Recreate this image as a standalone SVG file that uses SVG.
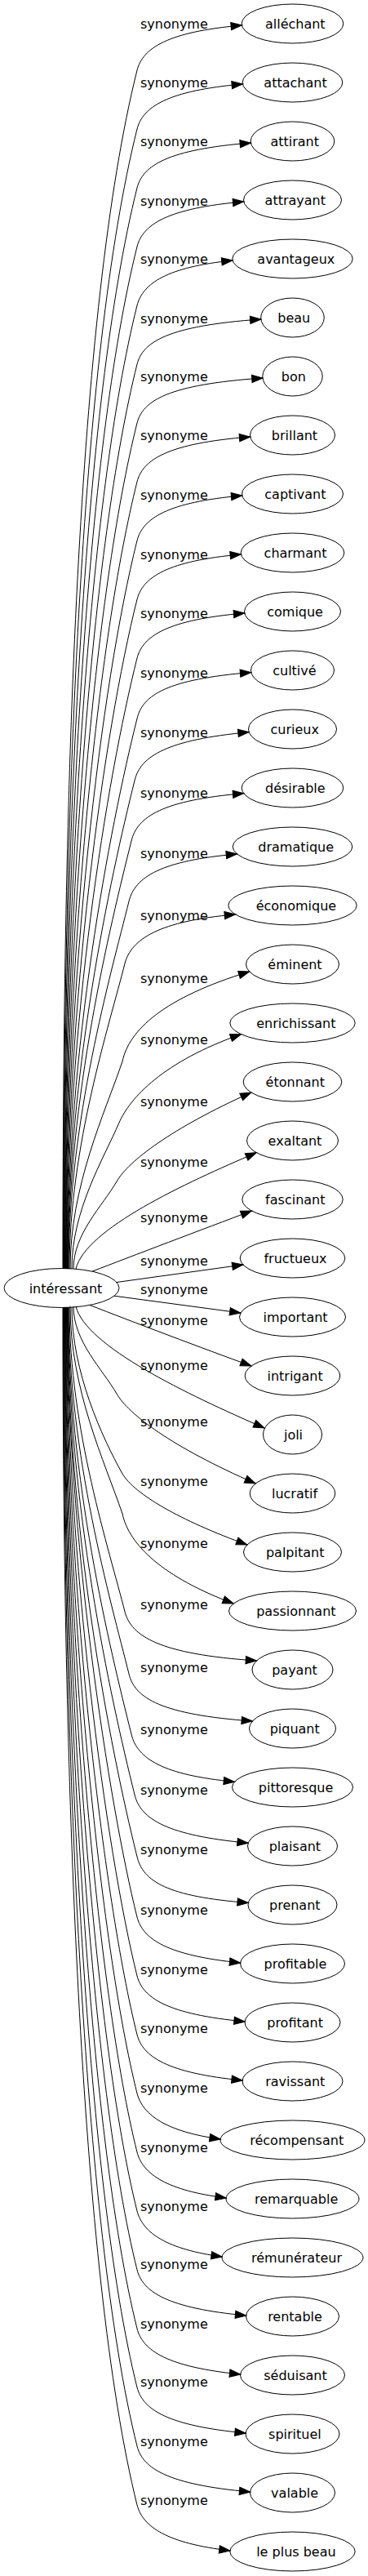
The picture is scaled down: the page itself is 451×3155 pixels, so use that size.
<svg xmlns="http://www.w3.org/2000/svg" width="451" height="3155" viewBox="0 0 451 3155">
<style>
.n ellipse{fill:none;stroke:#000;stroke-width:1}
.n text,.e text{font-family:"DejaVu Sans",sans-serif;font-size:16px;fill:#000}
.n text{text-anchor:middle}
.e path{fill:none;stroke:#000;stroke-width:1;marker-end:url(#ah)}
</style>
<defs>
<marker id="ah" markerUnits="userSpaceOnUse" markerWidth="13.3" markerHeight="9.33" viewBox="0 0 13.3 9.33" refX="13.3" refY="4.67" orient="auto" overflow="visible"><path d="M0,0L13.3,4.67L0,9.33z" fill="#000" stroke="#000" stroke-width="1"/></marker>
</defs>
<rect width="451" height="3155" fill="#fff"/>
<g id="edges" class="e">
<g><path d="M77,1554 C77,966.8 94.6,379.6 168,86 C175,59 205,39 296.4,31"/><text x="172" y="35">synonyme</text></g>
<g><path d="M77.5,1554 C77.5,995.6 98.2,437.2 168,158 C175,131 205,111 297.4,103"/><text x="172" y="106.7">synonyme</text></g>
<g><path d="M78,1554 C78,1024.4 101.8,494.8 168,230 C175,203 205,183 307.4,175"/><text x="172" y="179">synonyme</text></g>
<g><path d="M78.5,1554 C78.5,1053.2 105.4,552.4 168,302 C175,275 205,255 298.7,247"/><text x="172" y="251.7">synonyme</text></g>
<g><path d="M79,1554 C79,1082 109,610 168,374 C175,347 205,327 285,319"/><text x="172" y="323">synonyme</text></g>
<g><path d="M79.5,1554 C79.5,1110.8 112.6,667.6 168,446 C175,419 205,399 319.9,391"/><text x="172" y="395.7">synonyme</text></g>
<g><path d="M80,1554 C80,1139.6 116.2,725.2 168,518 C175,491 205,471 322,463"/><text x="172" y="466.7">synonyme</text></g>
<g><path d="M80.5,1554 C80.5,1168.4 119.8,782.8 168,590 C175,563 205,543 306.7,535"/><text x="172" y="539">synonyme</text></g>
<g><path d="M81,1554 C81,1197.2 123.4,840.4 168,662 C175,635 205,615 296.7,607"/><text x="172" y="611.7">synonyme</text></g>
<g><path d="M81.5,1554 C81.5,1226 127,898 168,734 C175,707 205,687 295.4,679"/><text x="172" y="685">synonyme</text></g>
<g><path d="M82,1554 C82,1254.8 130.6,955.6 168,806 C175,779 205,759 299.7,751"/><text x="172" y="757">synonyme</text></g>
<g><path d="M82.5,1554 C82.5,1284.4 134.3,1014.8 168,880 C175,851 205,832 307.7,823.5"/><text x="172" y="830">synonyme</text></g>
<g><path d="M83,1554 C83,1314.8 135.1,1075.6 165,956 C172,926 205,906 305.1,896.7"/><text x="172" y="903.3">synonyme</text></g>
<g><path d="M83.5,1554 C83.5,1344.4 134.8,1134.8 161,1030 C168,1000 200,980 298.7,971.7"/><text x="172" y="976.7">synonyme</text></g>
<g><path d="M84,1554 C84,1374 135.5,1194 158,1104 C165,1074 198,1054 290.5,1046"/><text x="172" y="1050.7">synonyme</text></g>
<g><path d="M85,1554 C85,1404.4 134.3,1254.8 153,1180 C161,1150 195,1128 288.5,1120"/><text x="172" y="1126.7">synonyme</text></g>
<g><path d="M86,1554 C86,1452.4 128.4,1363.5 150,1300 C158,1262 200,1222 305.7,1190"/><text x="172" y="1204">synonyme</text></g>
<g><path d="M88,1554 C88,1482.4 126.6,1420 146,1375 C159,1345 200,1300 295.5,1266.7"/><text x="172" y="1279.3">synonyme</text></g>
<g><path d="M90,1554 C90,1511 125.75,1477 143,1447 C157.4,1422 210,1382 307.8,1338"/><text x="172" y="1355">synonyme</text></g>
<g><path d="M93,1554 C105,1505 227,1449 314.3,1411.7"/><text x="172" y="1429.3">synonyme</text></g>
<g><path d="M113,1557.2 C160,1539 250,1505 308.4,1483"/><text x="172" y="1496.7">synonyme</text></g>
<g><path d="M143,1570.5 L297.9,1549"/><text x="172" y="1550">synonyme</text></g>
<g><path d="M140,1587.2 L294.9,1608"/><text x="172" y="1585">synonyme</text></g>
<g><path d="M110,1598.4 C160,1618 250,1652 308,1673"/><text x="172" y="1623">synonyme</text></g>
<g><path d="M93,1600 C105,1649 230,1708 324,1749"/><text x="172" y="1678">synonyme</text></g>
<g><path d="M90,1600 C90,1643 125.75,1677 143,1707 C157.4,1732 210,1772 313.2,1817"/><text x="172" y="1747">synonyme</text></g>
<g><path d="M88,1601 C88,1680 125,1760 150,1805 C165,1830 220,1862 302.9,1892"/><text x="172" y="1820">synonyme</text></g>
<g><path d="M86,1600 C86,1701.6 128.4,1790.5 150,1854 C158,1892 200,1932 286.2,1964"/><text x="172" y="1896">synonyme</text></g>
<g><path d="M85,1601 C85,1750.2 134.3,1899.4 153,1974 C161,2004 195,2026 314.5,2034"/><text x="172" y="1970.5">synonyme</text></g>
<g><path d="M84,1601 C84,1780.6 135.5,1960.2 158,2050 C165,2080 198,2100 309.4,2108"/><text x="172" y="2047.8">synonyme</text></g>
<g><path d="M83.5,1601 C83.5,1810.2 134.8,2019.4 161,2124 C168,2154 200,2174 287.5,2182.3"/><text x="172" y="2123.8">synonyme</text></g>
<g><path d="M83,1601 C83,1839.8 135.1,2078.6 165,2198 C172,2228 205,2248 304.2,2257.3"/><text x="172" y="2197.8">synonyme</text></g>
<g><path d="M82.5,1601 C82.5,1870.2 134.3,2139.4 168,2274 C175,2304 205,2323 304.3,2330.5"/><text x="172" y="2271.2">synonyme</text></g>
<g><path d="M82,1601 C82,1877 133.5,2210 168,2348 C175,2375 205,2395 294.7,2404"/><text x="172" y="2344.5">synonyme</text></g>
<g><path d="M81.5,1601 C81.5,1905.8 129.9,2267.6 168,2420 C175,2447 205,2467 300.2,2476"/><text x="172" y="2417.5">synonyme</text></g>
<g><path d="M81,1601 C81,1934.6 126.3,2325.2 168,2492 C175,2519 205,2539 297.2,2548"/><text x="172" y="2489.5">synonyme</text></g>
<g><path d="M80.5,1601 C80.5,1963.4 122.7,2382.8 168,2564 C175,2591 205,2611 270.2,2620"/><text x="172" y="2562.8">synonyme</text></g>
<g><path d="M80,1601 C80,1992.2 119.1,2440.4 168,2636 C175,2663 205,2683 277.2,2692"/><text x="172" y="2635.5">synonyme</text></g>
<g><path d="M79.5,1601 C79.5,2021 115.5,2498 168,2708 C175,2735 205,2755 272.2,2764"/><text x="172" y="2707.8">synonyme</text></g>
<g><path d="M79,1601 C79,2049.8 111.9,2555.6 168,2780 C175,2807 205,2827 301.7,2836"/><text x="172" y="2778.8">synonyme</text></g>
<g><path d="M78.5,1601 C78.5,2078.6 108.3,2613.2 168,2852 C175,2879 205,2899 294.7,2908"/><text x="172" y="2851.5">synonyme</text></g>
<g><path d="M78,1601 C78,2107.4 104.7,2670.8 168,2924 C175,2951 205,2971 301.2,2980"/><text x="172" y="2922.8">synonyme</text></g>
<g><path d="M77.5,1601 C77.5,2136.2 101.1,2728.4 168,2996 C175,3023 205,3043 306.7,3052"/><text x="172" y="2995.5">synonyme</text></g>
<g><path d="M77,1601 C77,2165 97.5,2786 168,3068 C175,3095 205,3115 282,3124"/><text x="172" y="3068">synonyme</text></g>
</g>
<g id="nodes" class="n">
<g id="n-interessant"><ellipse cx="75.5" cy="1577.5" rx="70.5" ry="24"/><text x="80.5" y="1583.5">intéressant</text></g>
<g id="n-allechant"><ellipse cx="358.5" cy="29" rx="62.3" ry="24"/><text x="361.8" y="35">alléchant</text></g>
<g id="n-attachant"><ellipse cx="358.5" cy="101" rx="61.3" ry="24"/><text x="362" y="107">attachant</text></g>
<g id="n-attirant"><ellipse cx="358.5" cy="173" rx="51.3" ry="24"/><text x="361.2" y="179">attirant</text></g>
<g id="n-attrayant"><ellipse cx="358.5" cy="245" rx="60" ry="24"/><text x="361.8" y="251">attrayant</text></g>
<g id="n-avantageux"><ellipse cx="358.5" cy="317" rx="73.7" ry="24"/><text x="362.8" y="323">avantageux</text></g>
<g id="n-beau"><ellipse cx="358.5" cy="389" rx="38.8" ry="24"/><text x="360.3" y="395">beau</text></g>
<g id="n-bon"><ellipse cx="358.5" cy="461" rx="36.7" ry="24"/><text x="359.9" y="467">bon</text></g>
<g id="n-brillant"><ellipse cx="358.5" cy="533" rx="52" ry="24"/><text x="361" y="539">brillant</text></g>
<g id="n-captivant"><ellipse cx="358.5" cy="605" rx="62" ry="24"/><text x="361.9" y="611">captivant</text></g>
<g id="n-charmant"><ellipse cx="358.5" cy="677" rx="63.3" ry="24"/><text x="362" y="683">charmant</text></g>
<g id="n-comique"><ellipse cx="358.5" cy="749" rx="59" ry="24"/><text x="361.6" y="755">comique</text></g>
<g id="n-cultive"><ellipse cx="358.5" cy="821" rx="51" ry="24"/><text x="360.9" y="827">cultivé</text></g>
<g id="n-curieux"><ellipse cx="358.5" cy="893" rx="54" ry="24"/><text x="361.2" y="899">curieux</text></g>
<g id="n-desirable"><ellipse cx="358.5" cy="965" rx="62.3" ry="24"/><text x="361.8" y="971">désirable</text></g>
<g id="n-dramatique"><ellipse cx="358.5" cy="1037" rx="73.3" ry="24"/><text x="362.7" y="1043">dramatique</text></g>
<g id="n-economique"><ellipse cx="358.5" cy="1109" rx="78.7" ry="24"/><text x="362.9" y="1115">économique</text></g>
<g id="n-eminent"><ellipse cx="358.5" cy="1181" rx="57" ry="24"/><text x="361.5" y="1187">éminent</text></g>
<g id="n-enrichissant"><ellipse cx="358.5" cy="1253" rx="76.7" ry="24"/><text x="362.9" y="1259">enrichissant</text></g>
<g id="n-etonnant"><ellipse cx="358.5" cy="1325" rx="60.3" ry="24"/><text x="361.8" y="1331">étonnant</text></g>
<g id="n-exaltant"><ellipse cx="358.5" cy="1397" rx="56" ry="24"/><text x="361.5" y="1403">exaltant</text></g>
<g id="n-fascinant"><ellipse cx="358.5" cy="1469" rx="61.7" ry="24"/><text x="361.8" y="1475">fascinant</text></g>
<g id="n-fructueux"><ellipse cx="358.5" cy="1541" rx="64.3" ry="24"/><text x="362" y="1547">fructueux</text></g>
<g id="n-important"><ellipse cx="358.5" cy="1613" rx="65" ry="24"/><text x="362.1" y="1619">important</text></g>
<g id="n-intrigant"><ellipse cx="358.5" cy="1685" rx="58.3" ry="24"/><text x="361.6" y="1691">intrigant</text></g>
<g id="n-joli"><ellipse cx="358.5" cy="1757" rx="36" ry="24"/><text x="359.5" y="1763">joli</text></g>
<g id="n-lucratif"><ellipse cx="358.5" cy="1829" rx="52.3" ry="24"/><text x="361" y="1835">lucratif</text></g>
<g id="n-palpitant"><ellipse cx="358.5" cy="1901" rx="60" ry="24"/><text x="361.7" y="1907">palpitant</text></g>
<g id="n-passionnant"><ellipse cx="358.5" cy="1973" rx="78" ry="24"/><text x="362.9" y="1979">passionnant</text></g>
<g id="n-payant"><ellipse cx="358.5" cy="2045" rx="49.5" ry="24"/><text x="361" y="2051">payant</text></g>
<g id="n-piquant"><ellipse cx="358.5" cy="2117" rx="53" ry="24"/><text x="361.2" y="2123">piquant</text></g>
<g id="n-pittoresque"><ellipse cx="358.5" cy="2189" rx="74" ry="24"/><text x="362.6" y="2195">pittoresque</text></g>
<g id="n-plaisant"><ellipse cx="358.5" cy="2261" rx="55" ry="24"/><text x="361.4" y="2267">plaisant</text></g>
<g id="n-prenant"><ellipse cx="358.5" cy="2333" rx="54.5" ry="24"/><text x="361.3" y="2339">prenant</text></g>
<g id="n-profitable"><ellipse cx="358.5" cy="2405" rx="64" ry="24"/><text x="362" y="2411">profitable</text></g>
<g id="n-profitant"><ellipse cx="358.5" cy="2477" rx="58.5" ry="24"/><text x="361.6" y="2483">profitant</text></g>
<g id="n-ravissant"><ellipse cx="358.5" cy="2549" rx="61.5" ry="24"/><text x="361.8" y="2555">ravissant</text></g>
<g id="n-recompensant"><ellipse cx="358.5" cy="2621" rx="88.5" ry="24"/><text x="363.7" y="2627">récompensant</text></g>
<g id="n-remarquable"><ellipse cx="358.5" cy="2693" rx="81.5" ry="24"/><text x="363.1" y="2699">remarquable</text></g>
<g id="n-remunerateur"><ellipse cx="358.5" cy="2765" rx="86.5" ry="24"/><text x="363.5" y="2771">rémunérateur</text></g>
<g id="n-rentable"><ellipse cx="358.5" cy="2837" rx="57" ry="24"/><text x="361.5" y="2843">rentable</text></g>
<g id="n-seduisant"><ellipse cx="358.5" cy="2909" rx="64" ry="24"/><text x="362" y="2915">séduisant</text></g>
<g id="n-spirituel"><ellipse cx="358.5" cy="2981" rx="57.5" ry="24"/><text x="361.4" y="2987">spirituel</text></g>
<g id="n-valable"><ellipse cx="358.5" cy="3053" rx="52" ry="24"/><text x="361.1" y="3059">valable</text></g>
<g id="n-le-plus-beau"><ellipse cx="358.5" cy="3125" rx="76.7" ry="24"/><text x="362.9" y="3131">le plus beau</text></g>
</g>
</svg>
